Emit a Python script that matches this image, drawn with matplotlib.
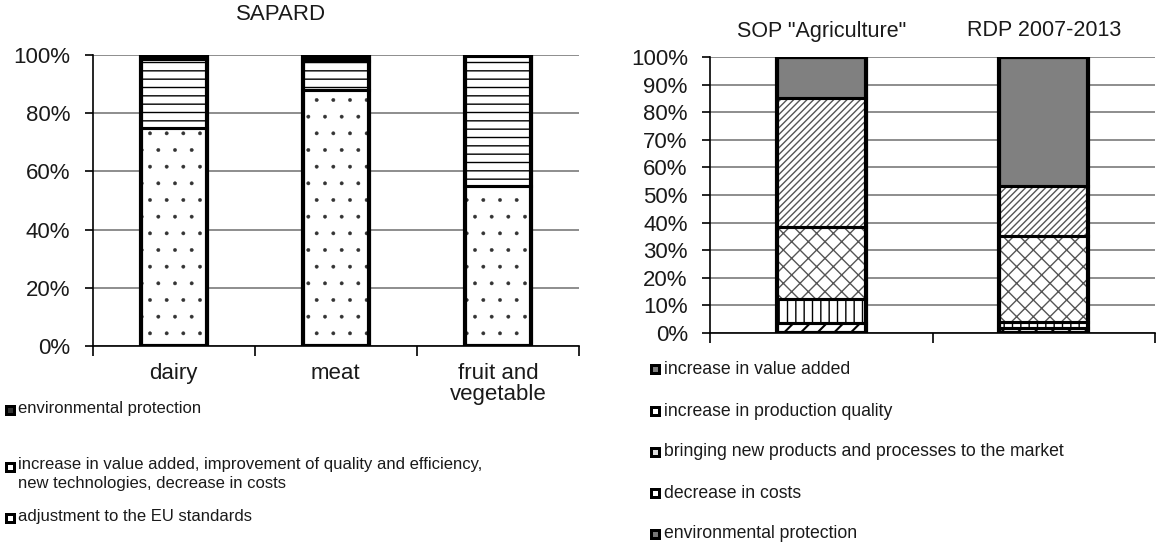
import matplotlib
matplotlib.use("Agg")
import matplotlib.pyplot as plt
from matplotlib.patches import Rectangle
import numpy as np

plt.rcParams['font.family'] = ['Liberation Sans', 'DejaVu Sans']
plt.rcParams['hatch.linewidth'] = 1.0

# ---------------- data ----------------
left_categories = ['dairy', 'meat', 'fruit and\nvegetable']
left_adjustment = [75.0, 88.0, 55.0]
left_value_added = [23.5, 10.0, 44.5]
left_env = [1.5, 2.0, 0.5]
left_ticks = [0, 20, 40, 60, 80, 100]
left_title = 'SAPARD'
left_legend = ['environmental protection',
               'increase in value added, improvement of quality and efficiency,\nnew technologies, decrease in costs',
               'adjustment to the EU standards']

right_categories = ['SOP "Agriculture"', 'RDP 2007-2013']
right_env = [3.5, 1.7]
right_costs = [8.7, 2.4]
right_new_products = [26.3, 31.0]
right_quality = [46.5, 18.2]
right_value_added = [15.0, 46.7]
right_ticks = [0, 10, 20, 30, 40, 50, 60, 70, 80, 90, 100]
right_legend = ['increase in value added', 'increase in production quality',
                'bringing new products and processes to the market',
                'decrease in costs', 'environmental protection']

W, H = 1157, 547
fig = plt.figure(figsize=(W / 100, H / 100), dpi=100)
TXT = '#1a1a1a'


def px_axes(x0, x1, ytop, ybot):
    return fig.add_axes([x0 / W, (H - ybot) / H, (x1 - x0) / W, (ybot - ytop) / H])


def stack(ax, xs, width, series):
    bottoms = np.zeros(len(xs))
    for vals, face, hatch, hcol, hlw in series:
        vals = np.asarray(vals, dtype=float)
        plt.rcParams['hatch.linewidth'] = hlw
        ax.bar(xs, vals, width, bottom=bottoms, color=face, hatch=hatch,
               edgecolor=hcol, linewidth=0, zorder=3)
        plt.rcParams['hatch.linewidth'] = 1.0
        ax.bar(xs, vals, width, bottom=bottoms, facecolor='none',
               edgecolor='black', linewidth=2.2, zorder=4)
        bottoms += vals
    ax.bar(xs, bottoms, width, facecolor='none', edgecolor='black',
           linewidth=3.0, zorder=5)


def style(ax, ncat, ticks):
    ax.set_xlim(0, ncat)
    ax.set_ylim(0, 100)
    ax.set_yticks(ticks)
    ax.set_yticklabels([f'{t}%' for t in ticks], fontsize=16, color=TXT)
    ax.yaxis.grid(True, color='#7a7a7a', linewidth=1.2, zorder=0)
    ax.set_axisbelow(True)
    for s in ['top', 'right']:
        ax.spines[s].set_visible(False)
    for s in ['left', 'bottom']:
        ax.spines[s].set_color('black')
        ax.spines[s].set_linewidth(1.2)
    ax.tick_params(axis='y', length=6, width=1.2, pad=10, colors='black', labelcolor=TXT)
    ax.set_xticks(np.arange(ncat + 1), minor=True)
    ax.tick_params(axis='x', which='minor', length=7, width=1.2, direction='out')


# ---------------- left chart ----------------
axL = px_axes(92.7, 579, 55, 346)
xsL = np.arange(len(left_categories)) + 0.5
stack(axL, xsL, 0.41, [
    (left_adjustment, 'white', '.', '#333333', 0.3),
    (left_value_added, 'white', '--', 'black', 1.0),
    (left_env, 'black', None, 'black', 1.0),
])
style(axL, len(left_categories), left_ticks)
axL.set_xticks(xsL)
axL.set_xticklabels(left_categories, fontsize=16, color=TXT, linespacing=1.05)
axL.tick_params(axis='x', which='major', length=0, pad=12)
fig.text(281 / W, 1 - 15 / H, left_title, fontsize=16, color=TXT, ha='center', va='center')

# ---------------- right chart ----------------
axR = px_axes(710, 1155, 57, 333)
xsR = np.arange(len(right_categories)) + 0.5
stack(axR, xsR, 0.40, [
    (right_env, 'white', '//', 'black', 1.5),
    (right_costs, 'white', '||', 'black', 1.0),
    (right_new_products, 'white', 'xx', '#555555', 1.0),
    (right_quality, 'white', '/////', '#555555', 1.0),
    (right_value_added, '#808080', None, '#808080', 1.0),
])
style(axR, len(right_categories), right_ticks)
axR.set_xticks([])
for x, lab in zip(xsR, right_categories):
    axR.text(x, 1.0 + 26 / 276, lab, transform=axR.get_xaxis_transform(), fontsize=15.5,
             color=TXT, ha='center', va='center')

# ---------------- legends ----------------
def marker(xpx, ypx, inner):
    s = 11
    fig.patches.append(Rectangle((xpx / W, (H - ypx - s / 2) / H), s / W, s / H,
                                 transform=fig.transFigure, facecolor='black',
                                 edgecolor='black', linewidth=0))
    fig.patches.append(Rectangle(((xpx + 3) / W, (H - ypx - 2.5) / H), 5 / W, 5 / H,
                                 transform=fig.transFigure, facecolor=inner,
                                 edgecolor='none', linewidth=0))


left_rows = [410, 467, 518]
left_inner = ['#333333', 'white', 'white']
for y, lab, inn in zip(left_rows, left_legend, left_inner):
    marker(5, y, inn)
    if '\n' in lab:
        fig.text(18 / W, 1 - (y - 10) / H, lab, fontsize=12, color=TXT, ha='left',
                 va='top', linespacing=1.3)
    else:
        fig.text(18 / W, 1 - (y - 1) / H, lab, fontsize=12, color=TXT, ha='left',
                 va='center')

right_rows = [369, 411, 452, 493, 534]
right_inner = ['#808080', 'white', '#dddddd', 'white', '#777777']
for y, lab, inn in zip(right_rows, right_legend, right_inner):
    marker(650, y, inn)
    fig.text(664 / W, 1 - y / H, lab, fontsize=12.7, color=TXT, ha='left', va='center')

fig.savefig('out.png', dpi=100, facecolor='white')
